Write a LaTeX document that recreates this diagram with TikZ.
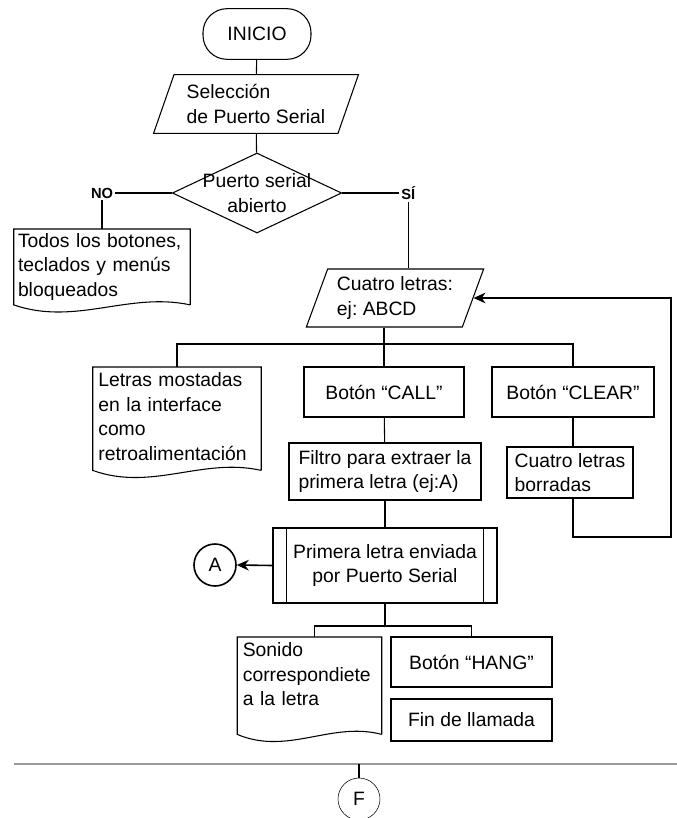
\documentclass[tikz,border=0pt]{standalone}
\usepackage{fontspec}
\setmainfont{Liberation Sans}
\usetikzlibrary{shapes.geometric,arrows.meta,calc}
\tikzset{%
	flow/.style={draw, line width=0.8pt},
	box/.style={%
		rectangle,
		draw,
		line width=0.8pt,
		align=center
	},
	startstop/.style={box, rounded corners=18pt},
	io/.style={%
		trapezium,
		trapezium stretches=true,
		trapezium left angle=69,
		trapezium right angle=111,
		draw,
		line width=0.8pt,
		align=left
	},
	decision/.style={diamond, draw, line width=0.8pt, inner sep=0pt},
	doc/.style={rectangle, draw=none, align=left, anchor=north, inner sep=4pt},
	tag/.style={fill=white, inner sep=1.5pt, font=\bfseries\fontsize{11}{12}\selectfont},
	conn/.style={circle, draw, minimum size=31.5pt, inner sep=0pt}
}
\newcommand{\docshape}[2]{%
	\draw[flow] ([yshift=-#2]#1.south east) -- (#1.north east) -- (#1.north west) -- ([yshift=-#2]#1.south west)
		.. controls ($([yshift=-#2]#1.south west)!0.35!([yshift=-#2]#1.south east)+(0,-16pt)$)
		and ($([yshift=-#2]#1.south west)!0.65!([yshift=-#2]#1.south east)+(0,10pt)$)
		.. ([yshift=-#2]#1.south east);}
\begin{document}
\begin{tikzpicture}[x=0.75pt, y=-0.75pt, >={Stealth[length=9pt, width=8pt]}, every node/.style={font=\fontsize{14.5}{18.5}\selectfont}]
	\useasboundingbox (0,0) rectangle (677,818);
	% inicio y puerto serial
	\node[startstop, minimum width=81pt, minimum height=38pt] (inicio) at (257,34) {INICIO};
	\node[io, minimum width=154pt, minimum height=44pt] (puerto) at (256,104) {Selección\\de Puerto Serial};
	\node[decision, minimum width=127pt, minimum height=60pt, label={[align=center]center:Puerto serial\\abierto}] (abierto) at (257,193) {};
	\node[doc, inner sep=3pt, text width=126pt] (bloqueo) at (102,229) {Todos los botones,\\teclados y menús\\bloqueados};
	\docshape{bloqueo}{0pt}
	\node[io, minimum width=133pt, minimum height=43.5pt] (letras) at (395,298) {Cuatro letras:\\ej:\ ABCD};
	% ramas de las letras
	\node[doc, text width=118pt] (mostrar) at (177,367) {Letras mostadas\\en la interface\\como\\retroalimentación};
	\docshape{mostrar}{3pt}
	\node[box, minimum width=120pt, minimum height=37.5pt] (call) at (384,392) {Botón “CALL”};
	\node[box, minimum width=121.5pt, minimum height=37.5pt] (clear) at (573,392) {Botón “CLEAR”};
	\node[box, align=left, minimum width=144pt, minimum height=42.75pt] (filtro) at (385,471.5) {Filtro para extraer la\\primera letra (ej:A)};
	\node[box, align=left, minimum width=94.5pt, minimum height=38.25pt] (borrar) at (570,472.5) {Cuatro letras\\borradas};
	\node[box, minimum width=168pt, minimum height=56.25pt] (envio) at (385,565.5) {Primera letra enviada\\por Puerto Serial};
	\draw[flow] ([xshift=10.5pt]envio.north west) -- ([xshift=10.5pt]envio.south west);
	\draw[flow] ([xshift=-10.5pt]envio.north east) -- ([xshift=-10.5pt]envio.south east);
	\node[conn, line width=1.2pt] (conA) at (215,565) {A};
	% salida
	\node[doc, text width=100pt] (sonido) at (309.5,637) {Sonido\\correspondiete\\a la letra};
	\docshape{sonido}{17pt}
	\node[box, minimum width=120.75pt, minimum height=37.5pt] (hang) at (471.5,662) {Botón “HANG”};
	\node[box, minimum width=120.75pt, minimum height=31.5pt] (fin) at (471.5,720) {Fin de llamada};
	\coordinate (hl) at (14,764);
	\coordinate (hr) at (677,764);
	\coordinate (retorno) at (671,537);
	\node[conn] (conF) at (359,799) {F};

	\draw[flow] (inicio) -- (puerto);
	\draw[flow] (puerto) -- (abierto);
	\draw[flow] (abierto.west) -| node[tag, pos=0.5] {NO} (bloqueo.north);
	\draw[flow] (abierto.east) -| node[tag, pos=0.5] {SÍ} ([xshift=10pt]letras.north);
	\draw[flow] (letras.south -| call.north) -- (call.north);
	\draw[flow] (mostrar.north) -- ++(0,-23) -| (clear.north);
	\draw[flow] (call) -- (filtro);
	\draw[flow] (clear.south) -- (clear.south |- borrar.north);
	\draw[flow, ->] (borrar.south -| clear.south) |- (retorno) |- (letras.east);
	\draw[flow] (filtro) -- (envio);
	\draw[flow, line width=1.2pt, ->] (envio.west) -- (conA.east);
	\draw[flow] (envio.south) -- ++(0,23);
	\draw[flow] ([xshift=4pt]sonido.north) -- ++(0,-11) -| (hang.north);
	\draw[line width=1.8pt, gray!80] (hl) -- (hr);
	\draw[flow] (conF.north) -- (conF.north |- hl);
\end{tikzpicture}
\end{document}
